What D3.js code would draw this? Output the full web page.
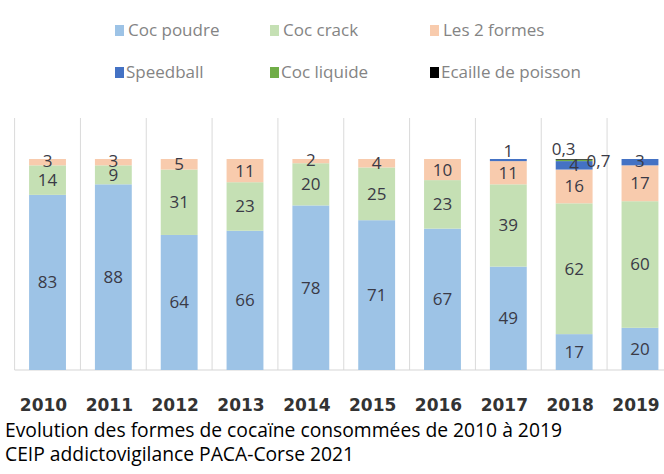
<!DOCTYPE html>
<html>
<head>
<meta charset="utf-8">
<script src="https://cdn.jsdelivr.net/npm/d3@7"></script>
<style>
  body { margin: 0; background: #fff; }
  svg { display: block; }
</style>
</head>
<body>
<svg id="svg"></svg>
<script>
// data (percent of each year)
var years      = ["2010", "2011", "2012", "2013", "2014", "2015", "2016", "2017", "2018", "2019"];
var cocPoudre  = [83, 88, 64, 66, 78, 71, 67, 49, 17, 20];
var cocCrack   = [14,  9, 31, 23, 20, 25, 23, 39, 62, 60];
var les2Formes = [ 3,  3,  5, 11,  2,  4, 10, 11, 16, 17];
var speedball  = [ 0,  0,  0,  0,  0,  0,  0,  1,  4,  3];
var cocLiquide = [ 0,  0,  0,  0,  0,  0,  0,  0, 0.7, 0];
var ecaille    = [ 0,  0,  0,  0,  0,  0,  0,  0, 0.3, 0];

var seriesNames  = ["Coc poudre", "Coc crack", "Les 2 formes", "Speedball", "Coc liquide", "Ecaille de poisson"];
var seriesValues = [cocPoudre, cocCrack, les2Formes, speedball, cocLiquide, ecaille];
var seriesColors = ["#9dc3e6", "#c5e0b4", "#f8cbad", "#4472c4", "#70ad47", "#000000"];

var captionLines = ["Evolution des formes de cocaïne consommées de 2010 à 2019",
                    "CEIP addictovigilance PACA-Corse 2021"];

//////////////////////////////////////////////////////////////////////////////

var width = 664, height = 474;
var svg = d3.select("#svg").attr("width", width).attr("height", height);

var x = d3.scaleBand().domain(years).range([14.6, 672.9])
        .paddingInner(0.44).paddingOuter(0.22);
var y = d3.scaleLinear().domain([0, 100]).range([370, 159]);

var step = x.step(), gap = (step - x.bandwidth()) / 2;

// vertical separators between the years
var bounds = years.map(function(d) { return x(d) - gap; });
bounds.push(x(years[years.length - 1]) + x.bandwidth() + gap);
svg.append("g").selectAll("line").data(bounds).enter().append("line")
    .attr("x1", function(d) { return d; }).attr("x2", function(d) { return d; })
    .attr("y1", 118).attr("y2", y(0))
    .attr("stroke", "#dadada").attr("stroke-width", 1);

svg.append("line")
    .attr("x1", bounds[0]).attr("x2", width)
    .attr("y1", y(0)).attr("y2", y(0))
    .attr("stroke", "#d6d6d6").attr("stroke-width", 1.2);

// stack the series
var rows = years.map(function(yr, i) {
    var r = { year: yr };
    seriesNames.forEach(function(s, k) { r[s] = seriesValues[k][i]; });
    return r;
});
var stacked = d3.stack().keys(seriesNames)(rows);

var layers = svg.append("g").selectAll("g").data(stacked).enter().append("g")
    .attr("fill", function(d, k) { return seriesColors[k]; });

layers.selectAll("rect")
    .data(function(d) { return d.filter(function(p) { return p[1] - p[0] > 0; }); })
    .enter().append("rect")
    .attr("x", function(p) { return x(p.data.year); })
    .attr("width", x.bandwidth())
    .attr("y", function(p) { return y(p[1]); })
    .attr("height", function(p) { return y(p[0]) - y(p[1]); });

// data labels
var labels = [];
stacked.forEach(function(layer, k) {
    layer.forEach(function(p) {
        var v = p[1] - p[0];
        if (v <= 0) return;
        var v0 = seriesValues[k][years.indexOf(p.data.year)];
        var cx = x(p.data.year) + x.bandwidth() / 2;
        var cy = (y(p[0]) + y(p[1])) / 2;
        var anchor = "middle";
        if (v0 < 0.5) {            // tiny top slice: label above, to the left
            cx = x(p.data.year) - 4; cy = y(p[1]) - 10; anchor = "start";
        } else if (v0 < 1) {       // thin slice: label to the right of the bar
            cx = x(p.data.year) + x.bandwidth() - 6; cy = y(p[1]) + 1; anchor = "start";
        } else if (v0 < 2) {       // thin line: label above the bar
            cy = y(p[1]) - 8;
        } else if (v0 < 4) {       // short slice: nudge up a little
            cy -= 1.5;
        }
        labels.push({ text: String(v0).replace(".", ","), x: cx, y: cy, anchor: anchor });
    });
});

svg.append("g").selectAll("text").data(labels).enter().append("text")
    .attr("x", function(d) { return d.x; })
    .attr("y", function(d) { return d.y; })
    .attr("dy", "0.35em")
    .attr("text-anchor", function(d) { return d.anchor; })
    .attr("font-family", "'Open Sans', sans-serif")
    .attr("font-size", 17)
    .attr("fill", "#3a3a46")
    .text(function(d) { return d.text; });

// year labels
svg.append("g").selectAll("text").data(years).enter().append("text")
    .attr("x", function(d) { return x(d) + x.bandwidth() / 2 - 4; })
    .attr("y", 411)
    .attr("text-anchor", "middle")
    .attr("font-family", "'DejaVu Sans', sans-serif")
    .attr("font-weight", "bold")
    .attr("font-size", 17)
    .attr("fill", "#333")
    .text(function(d) { return d; });

// legend, two rows of three
var legX = [115, 270, 430], legY = [30, 72];
var leg = svg.append("g").selectAll("g").data(seriesNames).enter().append("g")
    .attr("transform", function(d, k) {
        return "translate(" + legX[k % 3] + "," + legY[Math.floor(k / 3)] + ")";
    });
leg.append("rect")
    .attr("x", 0).attr("y", -5).attr("width", 9).attr("height", 11)
    .attr("fill", function(d, k) { return seriesColors[k]; });
leg.append("text")
    .attr("x", function(d, k) { return k < 3 ? 13 : 11; })
    .attr("y", 0).attr("dy", "0.35em")
    .attr("font-family", "'Open Sans', sans-serif")
    .attr("font-size", 17)
    .attr("fill", "#848484")
    .text(function(d) { return d; });

// caption
svg.append("g").selectAll("text").data(captionLines).enter().append("text")
    .attr("x", 5)
    .attr("y", function(d, i) { return 437 + i * 24; })
    .attr("font-family", "'Open Sans', sans-serif")
    .attr("font-size", 19.3)
    .attr("fill", "#000")
    .text(function(d) { return d; });
</script>
</body>
</html>
